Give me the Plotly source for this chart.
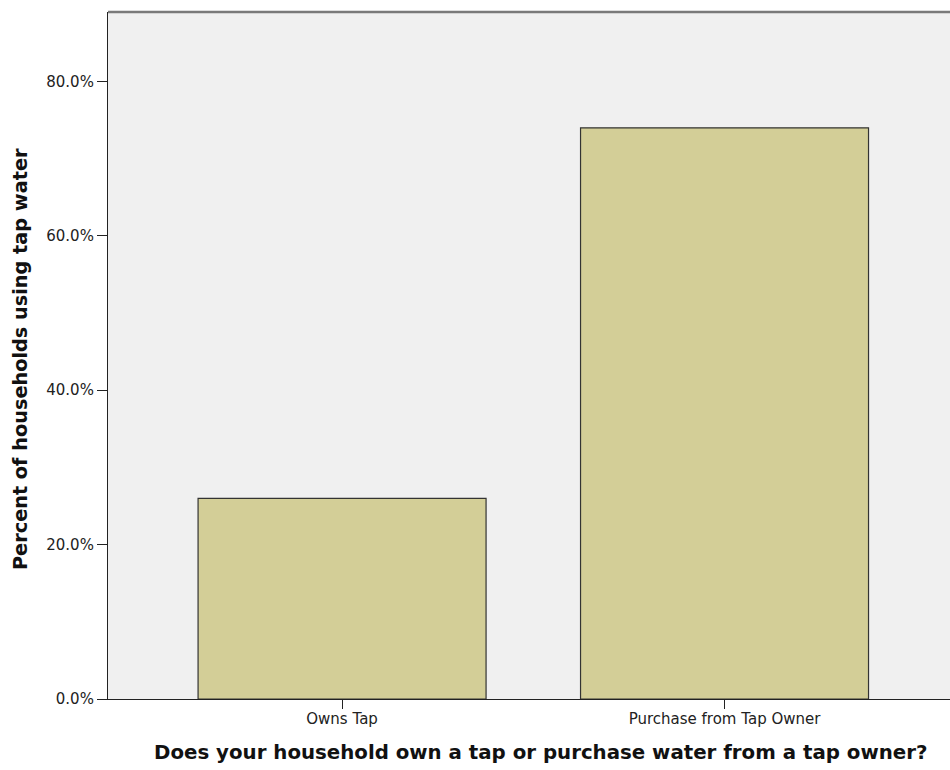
import plotly.graph_objects as go

categories = ["Owns Tap", "Purchase from Tap Owner"]
percents = [26.0, 74.0]
y_ticks = [0, 20, 40, 60, 80]
y_tick_labels = ["0.0%", "20.0%", "40.0%", "60.0%", "80.0%"]
x_title = "Does your household own a tap or purchase water from a tap owner?"
y_title = "Percent of households using tap water"

fig = go.Figure()
fig.add_trace(go.Bar(
    x=categories, y=percents, width=0.753,
    marker=dict(color="#d3ce97", line=dict(color="#333333", width=1.2)),
    hoverinfo="skip",
))
fig.update_layout(
    width=950, height=770,
    margin=dict(l=108, r=0, t=12, b=71),
    paper_bgcolor="white", plot_bgcolor="#f0f0f0",
    showlegend=False,
    font=dict(family="DejaVu Sans", color="#222222"),
)
fig.update_xaxes(
    range=[-0.612, 1.5895],
    showline=True, linecolor="#222222", linewidth=1.2,
    ticks="outside", ticklen=9, tickcolor="#222222",
    ticklabelstandoff=-3,
    tickfont=dict(size=15, color="#222222"),
    showgrid=False,
)
fig.update_yaxes(
    range=[0, 89], tickvals=y_ticks, ticktext=y_tick_labels,
    showline=True, linecolor="#222222", linewidth=1.2,
    ticks="outside", ticklen=10, tickcolor="#222222",
    tickfont=dict(size=15, color="#222222"),
    showgrid=False, zeroline=False,
)
fig.add_annotation(text=x_title, xref="paper", yref="paper", x=0.5137, y=-0.078,
                   xanchor="center", yanchor="middle", showarrow=False,
                   font=dict(size=19.8, family="DejaVu Sans", weight="bold", color="#111111"))
fig.add_annotation(text=y_title, xref="paper", yref="paper", x=-0.1045, y=0.4949,
                   xanchor="center", yanchor="middle", showarrow=False, textangle=-90,
                   font=dict(size=19.3, family="DejaVu Sans", weight="bold", color="#111111"))
fig.add_shape(type="line", xref="paper", yref="paper", x0=0, x1=1, y0=1, y1=1,
              line=dict(color="#7a7a7a", width=2.5))
fig.write_html("out.html", config={"displayModeBar": False},
               post_script="document.body.style.margin='0';")
